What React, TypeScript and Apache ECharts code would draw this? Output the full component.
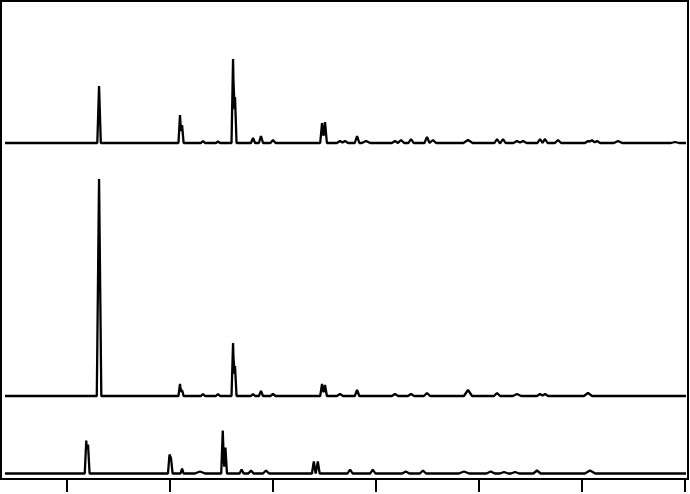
import React, { useEffect, useRef } from "react";
import * as echarts from "echarts";

// 2θ axis (degrees)
const xMin = 3.59;
const xMax = 70.29;
const traceStart = 3.98;
const traceEnd = 70.1;
const tickValues = [10, 20, 30, 40, 50, 60, 70];

// vertical offsets of the three stacked patterns
const offsets = [336, 83, 5.5];

// peaks: [2θ position, height, half-width]
const topPeaks: [number, number, number][] = [
  [13.11, 57, 0.17],
  [20.97, 28, 0.15], [21.17, 18, 0.15],
  [23.2, 2, 0.2], [24.66, 1.5, 0.2],
  [26.12, 84, 0.15], [26.31, 46, 0.15],
  [28.06, 5, 0.2], [28.83, 7, 0.2], [30.0, 3, 0.25],
  [34.76, 20, 0.18], [35.05, 21, 0.18],
  [36.5, 2, 0.3], [36.99, 2, 0.3],
  [38.16, 7, 0.22], [39.03, 2, 0.4],
  [41.84, 2, 0.3], [42.43, 3, 0.3], [43.4, 4, 0.25],
  [44.95, 6, 0.25], [45.53, 3, 0.3],
  [48.93, 3, 0.45],
  [51.75, 4, 0.25], [52.33, 4, 0.25],
  [53.69, 2, 0.35], [54.27, 2, 0.35],
  [55.92, 4, 0.25], [56.41, 4, 0.25],
  [57.67, 3, 0.3],
  [60.58, 2, 0.3], [60.97, 3, 0.3], [61.46, 2, 0.3],
  [63.5, 2, 0.4], [69.03, 1, 0.4],
];

const middlePeaks: [number, number, number][] = [
  [13.11, 217, 0.22],
  [20.97, 12, 0.15], [21.17, 6, 0.15],
  [23.2, 2, 0.2], [24.66, 2, 0.2],
  [26.12, 53, 0.15], [26.31, 30, 0.15],
  [28.06, 2, 0.2], [28.83, 5, 0.2], [30.0, 2, 0.25],
  [34.76, 12, 0.18], [35.05, 11, 0.18],
  [36.5, 2, 0.3], [38.16, 6, 0.22],
  [41.84, 2, 0.3], [43.4, 2, 0.3], [44.95, 3, 0.3],
  [48.93, 6, 0.4],
  [51.75, 3, 0.3], [53.69, 2, 0.4], [55.92, 2, 0.3], [56.41, 2, 0.3],
  [60.58, 3, 0.4],
];

const bottomPeaks: [number, number, number][] = [
  [11.87, 33, 0.15], [12.04, 29, 0.15],
  [19.95, 19, 0.15], [20.1, 15, 0.15],
  [21.17, 5, 0.15],
  [22.91, 2, 0.5],
  [25.12, 43, 0.15], [25.38, 26, 0.15],
  [26.95, 4, 0.2], [27.86, 3, 0.25], [29.32, 3, 0.3],
  [33.96, 12, 0.18], [34.35, 12, 0.18],
  [37.48, 4, 0.25], [39.69, 4, 0.25],
  [42.89, 2, 0.35], [44.56, 3, 0.3],
  [48.54, 2, 0.5],
  [51.13, 2, 0.4], [52.43, 1.5, 0.4], [53.5, 1.5, 0.4],
  [55.63, 3, 0.35],
  [60.78, 3, 0.5],
];

function buildTrace(peaks: [number, number, number][], offset: number) {
  const xs = new Set<number>([traceStart, traceEnd]);
  peaks.forEach(([p, , w]) => {
    xs.add(p - w);
    xs.add(p);
    xs.add(p + w);
  });
  const sorted = Array.from(xs).sort((a, b) => a - b);
  return sorted.map((x) => {
    let y = offset;
    peaks.forEach(([p, h, w]) => {
      const d = Math.abs(x - p);
      if (d < w) y += h * (1 - d / w);
    });
    return [x, y];
  });
}

export default function App() {
  const ref = useRef<HTMLDivElement>(null);
  useEffect(() => {
    if (!ref.current) return;
    const chart = echarts.init(ref.current, undefined, { renderer: "svg" });
    const traces = [topPeaks, middlePeaks, bottomPeaks];
    chart.setOption({
      animation: false,
      backgroundColor: "#fff",
      grid: {
        left: 1,
        right: 2,
        top: 1,
        bottom: 15,
        show: true,
        borderColor: "#000",
        borderWidth: 2,
        backgroundColor: "transparent",
      },
      xAxis: {
        type: "value",
        min: xMin,
        max: xMax,
        axisLine: { show: true, lineStyle: { color: "#000", width: 2 } },
        axisTick: {
          show: true,
          inside: false,
          length: 13,
          lineStyle: { color: "#000", width: 2 },
          customValues: tickValues,
        },
        axisLabel: { show: false },
        splitLine: { show: false },
      },
      yAxis: {
        type: "value",
        min: 0,
        max: 478,
        axisLine: { show: false },
        axisTick: { show: false },
        axisLabel: { show: false },
        splitLine: { show: false },
      },
      series: traces.map((pk, i) => ({
        type: "line",
        data: buildTrace(pk, offsets[i]),
        showSymbol: false,
        symbol: "none",
        lineStyle: { color: "#000", width: 2.3 },
        silent: true,
      })),
    });
    return () => chart.dispose();
  }, []);
  return (
    <div
      ref={ref}
      style={{ position: "fixed", left: 0, top: 0, width: 690, height: 494 }}
    />
  );
}
